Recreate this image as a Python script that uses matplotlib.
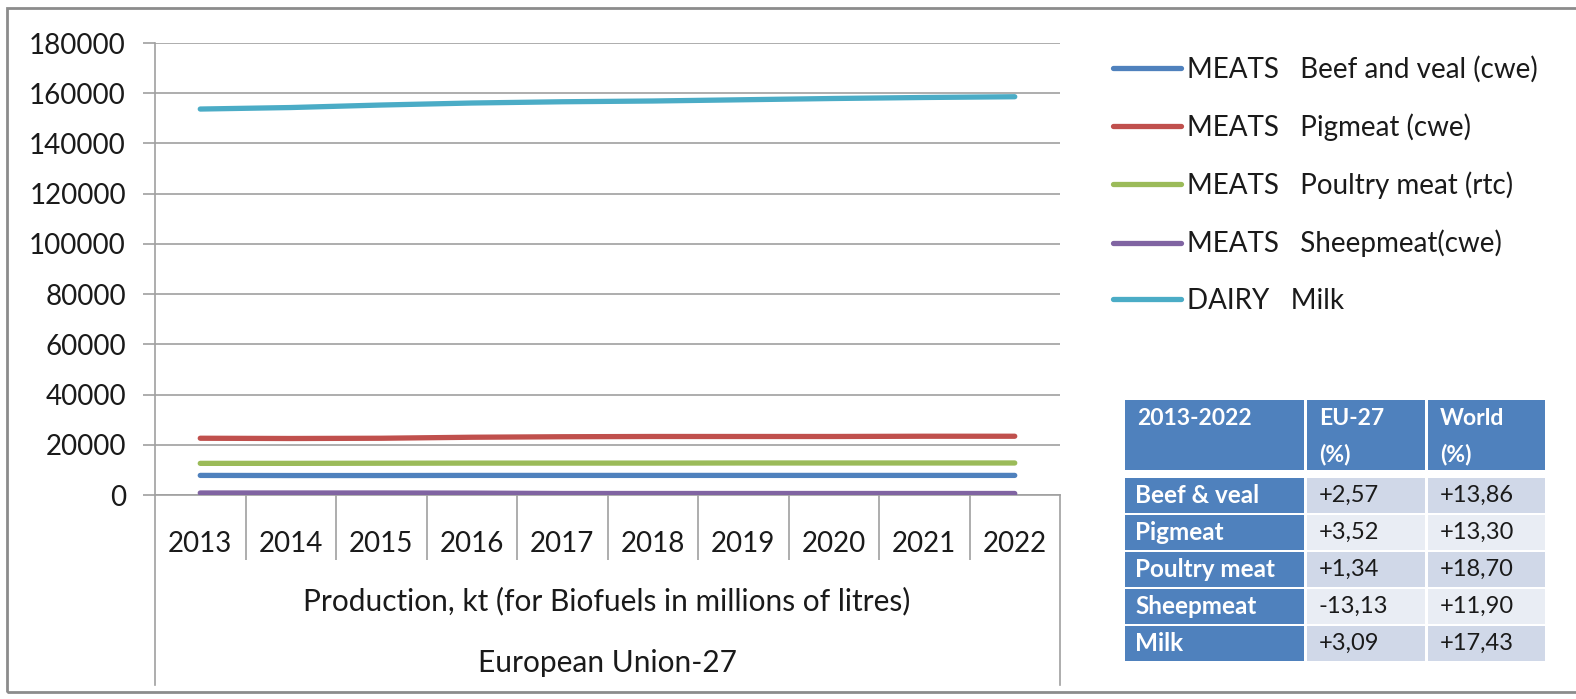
import numpy as np
import matplotlib.pyplot as plt
from matplotlib.patches import Rectangle
from matplotlib.lines import Line2D

plt.rcParams['font.family'] = ['Lato', 'DejaVu Sans']

years = ["2013", "2014", "2015", "2016", "2017", "2018", "2019", "2020", "2021", "2022"]
beef = [7800, 7750, 7750, 7800, 7800, 7800, 7800, 7800, 7800, 7800]
pigmeat = [22600, 22500, 22600, 23000, 23200, 23300, 23300, 23300, 23400, 23400]
poultry = [12600, 12600, 12650, 12700, 12700, 12700, 12750, 12750, 12750, 12750]
sheep = [800, 800, 800, 750, 600, 600, 600, 600, 600, 600]
milk = [153700, 154300, 155300, 156100, 156600, 156900, 157400, 157900, 158300, 158600]

labels = ["MEATS   Beef and veal (cwe)", "MEATS   Pigmeat (cwe)",
          "MEATS   Poultry meat (rtc)", "MEATS   Sheepmeat(cwe)", "DAIRY   Milk"]
colors = ["#4F81BD", "#C0504D", "#9BBB59", "#8064A2", "#4BACC6"]

tbl_header = ["2013-2022", "EU-27\n(%)", "World\n(%)"]
tbl_rows = ["Beef & veal", "Pigmeat", "Poultry meat", "Sheepmeat", "Milk"]
tbl_eu = ["+2,57", "+3,52", "+1,34", "-13,13", "+3,09"]
tbl_world = ["+13,86", "+13,30", "+18,70", "+11,90", "+17,43"]

W, H = 1576, 699
fig = plt.figure(figsize=(W/100, H/100), dpi=100)
fig.patch.set_facecolor("white")

def fx(px):
    return px / W

def fy(py):
    return 1 - py / H

fs = 20
ax = fig.add_axes([fx(155), fy(495), fx(1060) - fx(155), fy(43) - fy(495)])
x = np.arange(len(years))
for s, c, l in zip([beef, pigmeat, poultry, sheep, milk], colors, labels):
    ax.plot(x, s, color=c, lw=3.8, solid_capstyle="round", label=l, zorder=3)

ax.set_xlim(-0.5, 9.5)
ax.set_ylim(0, 180000)
ax.set_yticks(np.arange(0, 180001, 20000))
ax.set_yticklabels([str(v) for v in range(0, 180001, 20000)], fontsize=fs, color="#1a1a1a")
ax.yaxis.grid(True, color="#a0a0a0", lw=1.2)
ax.set_axisbelow(True)
ax.tick_params(axis="y", length=9, width=1.2, color="#a0a0a0", pad=12)

ax.set_xticks(x)
ax.set_xticklabels(years, fontsize=fs, color="#1a1a1a")
ax.set_xticks(np.arange(0.5, 9, 1), minor=True)
ax.tick_params(axis="x", which="major", length=0, pad=26)
ax.tick_params(axis="x", which="minor", length=47, width=1.2, color="#a0a0a0")

for side in ["top", "right"]:
    ax.spines[side].set_visible(False)
ax.spines["left"].set_color("#a0a0a0")
ax.spines["left"].set_linewidth(1.2)
ax.spines["bottom"].set_color("#a0a0a0")
ax.spines["bottom"].set_linewidth(1.2)

# multi-level category axis frame
fig.add_artist(Line2D([fx(155), fx(155)], [fy(495), fy(685)], color="#a0a0a0", lw=1.2))
fig.add_artist(Line2D([fx(1060), fx(1060)], [fy(495), fy(685)], color="#a0a0a0", lw=1.2))
fig.text(fx(607), fy(601), "Production, kt (for Biofuels in millions of litres)",
         fontsize=21.5, ha="center", va="center", color="#1a1a1a")
fig.text(fx(607), fy(663), "European Union-27", fontsize=21.5, ha="center", va="center",
         color="#1a1a1a")

# outer chart border
fig.add_artist(Rectangle((fx(7), fy(692)), fx(1600) - fx(7), fy(8) - fy(692),
                         fill=False, ec="#8c8c8c", lw=2))

fig.legend(loc="upper left", bbox_to_anchor=(fx(1088), fy(31)), frameon=False,
           fontsize=fs, handlelength=2.45, handletextpad=0.2, labelspacing=1.1,
           labelcolor="#1a1a1a")

# summary table
col_x = [1125, 1307, 1428]
col_w = [179, 118, 117]
head_y, head_h = 400, 70
row_y = [478, 515, 552, 589, 626]
row_h = 35
blue = "#4F81BD"
shade = ["#D0D8E8", "#E9EDF4"]

for cx, cw, t in zip(col_x, col_w, tbl_header):
    fig.add_artist(Rectangle((fx(cx), fy(head_y + head_h)), fx(cw), head_h / H,
                             fc=blue, ec="none"))
    fig.text(fx(cx + 12), fy(head_y + 8), t, fontsize=16.5, fontweight="bold", color="white",
             ha="left", va="top", linespacing=1.8)

for i, (ry, name, eu, wd) in enumerate(zip(row_y, tbl_rows, tbl_eu, tbl_world)):
    fig.add_artist(Rectangle((fx(col_x[0]), fy(ry + row_h)), fx(col_w[0]), row_h / H,
                             fc=blue, ec="none"))
    fig.text(fx(col_x[0] + 10), fy(ry + row_h / 2), name, fontsize=17.5, fontweight="bold",
             color="white", ha="left", va="center")
    for j, val in enumerate([eu, wd]):
        fig.add_artist(Rectangle((fx(col_x[j + 1]), fy(ry + row_h)), fx(col_w[j + 1]),
                                 row_h / H, fc=shade[i % 2], ec="none"))
        fig.text(fx(col_x[j + 1] + 12), fy(ry + row_h / 2), val, fontsize=17,
                 color="#1a1a1a", ha="left", va="center")

fig.savefig("out.png", dpi=100, facecolor="white")
